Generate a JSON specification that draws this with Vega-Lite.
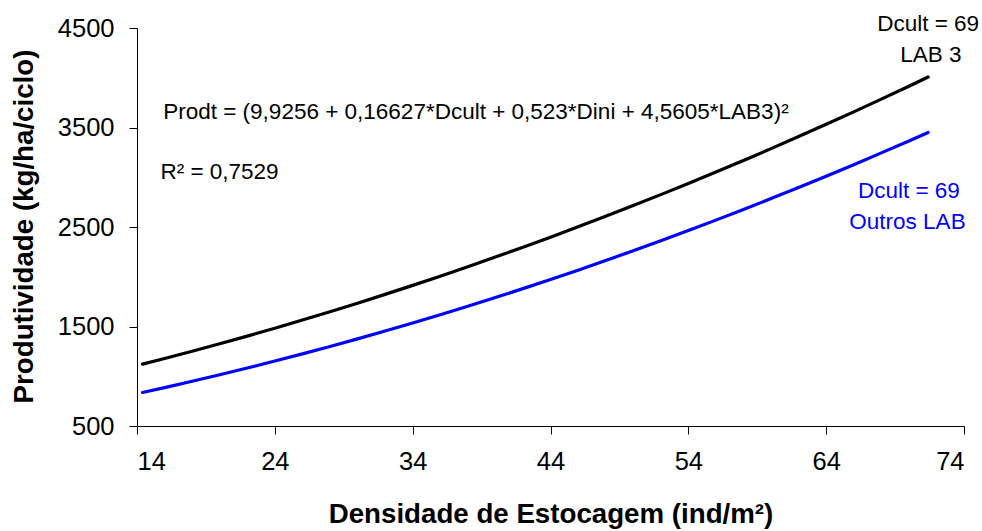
{
  "$schema": "https://vega.github.io/schema/vega-lite/v6.json",
  "width": 827,
  "height": 398,
  "autosize": {"type": "none"},
  "padding": {"left": 137, "top": 28, "right": 18, "bottom": 105},
  "background": "white",
  "config": {
    "view": {"stroke": null},
    "font": "Liberation Sans",
    "axis": {"grid": false, "domainColor": "black", "tickColor": "black", "domainWidth": 1, "tickWidth": 1, "tickSize": 8, "labelFont": "Liberation Sans", "labelColor": "black", "labelFontSize": 25.5, "titleFont": "Liberation Sans", "titleFontSize": 27.7, "titleFontWeight": "bold", "titleColor": "black"}
  },
  "datasets": {
    "curvas": [
      {"dini": 14.4, "prod": 1121.6, "serie": "LAB 3"},
      {"dini": 16, "prod": 1178.3, "serie": "LAB 3"},
      {"dini": 18, "prod": 1251.2, "serie": "LAB 3"},
      {"dini": 20, "prod": 1326.3, "serie": "LAB 3"},
      {"dini": 22, "prod": 1403.6, "serie": "LAB 3"},
      {"dini": 24, "prod": 1483.1, "serie": "LAB 3"},
      {"dini": 26, "prod": 1564.7, "serie": "LAB 3"},
      {"dini": 28, "prod": 1648.6, "serie": "LAB 3"},
      {"dini": 30, "prod": 1734.6, "serie": "LAB 3"},
      {"dini": 32, "prod": 1822.8, "serie": "LAB 3"},
      {"dini": 34, "prod": 1913.3, "serie": "LAB 3"},
      {"dini": 36, "prod": 2005.9, "serie": "LAB 3"},
      {"dini": 38, "prod": 2100.6, "serie": "LAB 3"},
      {"dini": 40, "prod": 2197.6, "serie": "LAB 3"},
      {"dini": 42, "prod": 2296.8, "serie": "LAB 3"},
      {"dini": 44, "prod": 2398.1, "serie": "LAB 3"},
      {"dini": 46, "prod": 2501.7, "serie": "LAB 3"},
      {"dini": 48, "prod": 2607.4, "serie": "LAB 3"},
      {"dini": 50, "prod": 2715.3, "serie": "LAB 3"},
      {"dini": 52, "prod": 2825.4, "serie": "LAB 3"},
      {"dini": 54, "prod": 2937.7, "serie": "LAB 3"},
      {"dini": 56, "prod": 3052.2, "serie": "LAB 3"},
      {"dini": 58, "prod": 3168.9, "serie": "LAB 3"},
      {"dini": 60, "prod": 3287.7, "serie": "LAB 3"},
      {"dini": 62, "prod": 3408.8, "serie": "LAB 3"},
      {"dini": 64, "prod": 3532.0, "serie": "LAB 3"},
      {"dini": 66, "prod": 3657.4, "serie": "LAB 3"},
      {"dini": 68, "prod": 3785.0, "serie": "LAB 3"},
      {"dini": 70, "prod": 3914.8, "serie": "LAB 3"},
      {"dini": 71.4, "prod": 4007.0, "serie": "LAB 3"},
      {"dini": 14.4, "prod": 836.9, "serie": "Outros LAB"},
      {"dini": 16, "prod": 886.0, "serie": "Outros LAB"},
      {"dini": 18, "prod": 949.4, "serie": "Outros LAB"},
      {"dini": 20, "prod": 1014.9, "serie": "Outros LAB"},
      {"dini": 22, "prod": 1082.7, "serie": "Outros LAB"},
      {"dini": 24, "prod": 1152.6, "serie": "Outros LAB"},
      {"dini": 26, "prod": 1224.7, "serie": "Outros LAB"},
      {"dini": 28, "prod": 1299.0, "serie": "Outros LAB"},
      {"dini": 30, "prod": 1375.5, "serie": "Outros LAB"},
      {"dini": 32, "prod": 1454.2, "serie": "Outros LAB"},
      {"dini": 34, "prod": 1535.1, "serie": "Outros LAB"},
      {"dini": 36, "prod": 1618.2, "serie": "Outros LAB"},
      {"dini": 38, "prod": 1703.4, "serie": "Outros LAB"},
      {"dini": 40, "prod": 1790.8, "serie": "Outros LAB"},
      {"dini": 42, "prod": 1880.5, "serie": "Outros LAB"},
      {"dini": 44, "prod": 1972.3, "serie": "Outros LAB"},
      {"dini": 46, "prod": 2066.3, "serie": "Outros LAB"},
      {"dini": 48, "prod": 2162.5, "serie": "Outros LAB"},
      {"dini": 50, "prod": 2260.8, "serie": "Outros LAB"},
      {"dini": 52, "prod": 2361.4, "serie": "Outros LAB"},
      {"dini": 54, "prod": 2464.2, "serie": "Outros LAB"},
      {"dini": 56, "prod": 2569.1, "serie": "Outros LAB"},
      {"dini": 58, "prod": 2676.2, "serie": "Outros LAB"},
      {"dini": 60, "prod": 2785.5, "serie": "Outros LAB"},
      {"dini": 62, "prod": 2897.0, "serie": "Outros LAB"},
      {"dini": 64, "prod": 3010.7, "serie": "Outros LAB"},
      {"dini": 66, "prod": 3126.6, "serie": "Outros LAB"},
      {"dini": 68, "prod": 3244.7, "serie": "Outros LAB"},
      {"dini": 70, "prod": 3365.0, "serie": "Outros LAB"},
      {"dini": 71.4, "prod": 3450.4, "serie": "Outros LAB"}
    ],
    "equacao": [
      {"dini": 15.9, "prod": 3656, "texto": "Prodt = (9,9256 + 0,16627*Dcult + 0,523*Dini + 4,5605*LAB3)²", "serie": "LAB 3"},
      {"dini": 15.7, "prod": 3053, "texto": "R² = 0,7529", "serie": "LAB 3"}
    ],
    "rotulos": [
      {"dini": 71.4, "prod": 4540, "texto": "Dcult = 69", "serie": "LAB 3"},
      {"dini": 71.6, "prod": 4229, "texto": "LAB 3", "serie": "LAB 3"},
      {"dini": 70.0, "prod": 2862, "texto": "Dcult = 69", "serie": "Outros LAB"},
      {"dini": 69.9, "prod": 2550, "texto": "Outros LAB", "serie": "Outros LAB"}
    ]
  },
  "encoding": {
    "x": {"field": "dini", "type": "quantitative", "scale": {"domain": [14, 74], "nice": false, "zero": false},
      "axis": {"values": [14, 24, 34, 44, 54, 64, 74], "format": "d", "title": "Densidade de Estocagem (ind/m²)", "labelPadding": 15, "titleY": 88, "titleBaseline": "middle"}},
    "y": {"field": "prod", "type": "quantitative", "scale": {"domain": [500, 4500], "nice": false, "zero": false},
      "axis": {"values": [500, 1500, 2500, 3500, 4500], "format": "d", "title": "Produtividade (kg/ha/ciclo)", "labelPadding": 15, "titleX": -113, "titleY": 198, "titleBaseline": "middle"}},
    "color": {"field": "serie", "type": "nominal", "scale": {"domain": ["LAB 3", "Outros LAB"], "range": ["#000000", "#0000FF"]}, "legend": null}
  },
  "layer": [
    {"data": {"name": "curvas"}, "mark": {"type": "line", "strokeWidth": 3.2, "strokeCap": "round"}},
    {"data": {"name": "equacao"}, "mark": {"type": "text", "align": "left", "baseline": "middle", "fontSize": 22.5, "font": "Liberation Sans"},
      "encoding": {"text": {"field": "texto"}}},
    {"data": {"name": "rotulos"}, "mark": {"type": "text", "align": "center", "baseline": "middle", "fontSize": 22.5, "font": "Liberation Sans"},
      "encoding": {"text": {"field": "texto"}}}
  ]
}
